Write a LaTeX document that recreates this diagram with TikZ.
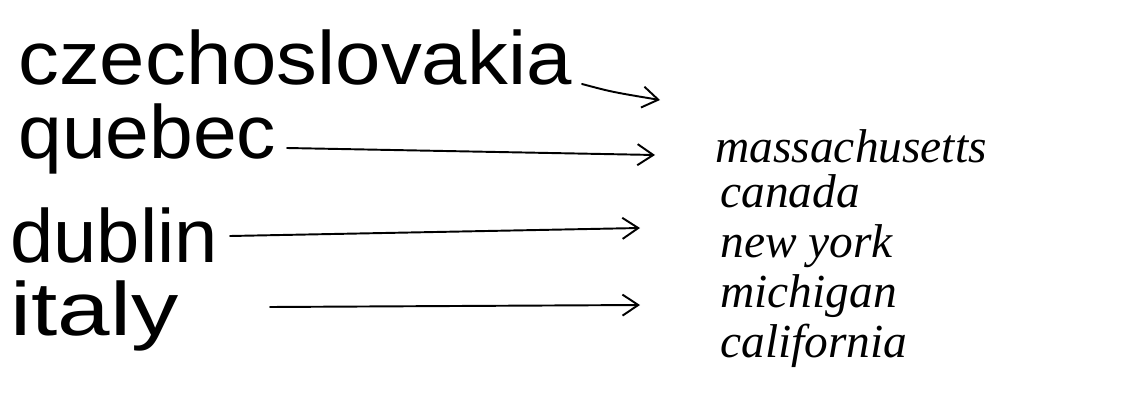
\documentclass[tikz,border=0pt]{standalone}
\usepackage{fontspec}
\setmainfont{Liberation Sans}
\newfontfamily\rightfont{Liberation Serif}
\usetikzlibrary{arrows.meta}
\begin{document}
\begin{tikzpicture}[x=0.02cm,y=-0.02cm,
  lword/.style={anchor=base west,inner sep=0pt,font=\fontsize{43}{43}\selectfont},
  rword/.style={anchor=base west,inner sep=0pt,font=\rightfont\itshape\fontsize{27}{27}\selectfont},
  conn/.style={line width=1.1pt,-{Straight Barb[length=9pt,width=12pt]},line cap=round}]
\useasboundingbox[fill=white] (0,0) rectangle (1141,412);
\node[lword,xscale=1.08] (cz) at (18,85) {czechoslovakia};
\node[lword,xscale=1.04] (qu) at (18,158) {quebec};
\node[lword,xscale=1.03] (du) at (10,262) {dublin};
\node[lword,xscale=1.25] (it) at (10,335) {italy};
\coordinate (czE) at (582,84);
\coordinate (czT) at (660,100);
\coordinate (quE) at (287,148);
\coordinate (quT) at (655,155);
\coordinate (duE) at (230,236);
\coordinate (duT) at (640,228);
\coordinate (itE) at (270,307);
\coordinate (itT) at (640,305);
\draw[conn] (czE) .. controls (612,92) .. (czT);
\draw[conn] (quE) -- (quT);
\draw[conn] (duE) -- (duT);
\draw[conn] (itE) -- (itT);
\node[rword] (ma) at (715,162) {massachusetts};
\node[rword] (ca) at (720,207) {canada};
\node[rword] (ny) at (720,257) {new york};
\node[rword] (mi) at (720,307) {michigan};
\node[rword] (cf) at (720,357) {california};
\end{tikzpicture}
\end{document}
